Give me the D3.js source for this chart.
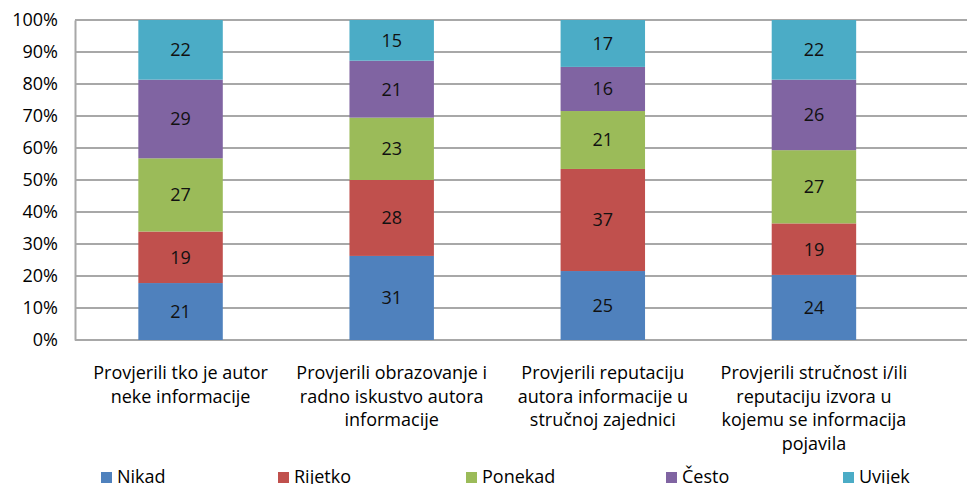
<!DOCTYPE html>
<html>
<head>
<meta charset="utf-8">
<script src="https://cdn.jsdelivr.net/npm/d3@7"></script>
<style>
  body { margin: 0; background: #fff; }
  svg { display: block; font-family: "Open Sans", "Liberation Sans", sans-serif; }
</style>
</head>
<body>
<svg id="chart" width="967" height="484"></svg>
<script>
// categories (x axis), each label split into lines
var categories = ["c1", "c2", "c3", "c4"];
var categoryLines = [
  ["Provjerili tko je autor", "neke informacije"],
  ["Provjerili obrazovanje i", "radno iskustvo autora", "informacije"],
  ["Provjerili reputaciju", "autora informacije u", "stručnoj zajednici"],
  ["Provjerili stručnost i/ili", "reputaciju izvora u", "kojemu se informacija", "pojavila"]
];
var seriesNames = ["Nikad", "Rijetko", "Ponekad", "Često", "Uvijek"];
var nikad   = [21, 31, 25, 24];
var rijetko = [19, 28, 37, 19];
var ponekad = [27, 23, 21, 27];
var cesto   = [29, 21, 16, 26];
var uvijek  = [22, 15, 17, 22];
var yTicks = [0, 0.1, 0.2, 0.3, 0.4, 0.5, 0.6, 0.7, 0.8, 0.9, 1];

var colors = ["#4F81BD", "#C0504D", "#9BBB59", "#8064A2", "#4BACC6"];
var fontSize = 18;

// build rows for d3.stack
var allSeries = [nikad, rijetko, ponekad, cesto, uvijek];
var rows = categories.map(function(c, i) {
  var r = {cat: c};
  seriesNames.forEach(function(s, j) { r[s] = allSeries[j][i]; });
  return r;
});

var stacked = d3.stack()
  .keys(seriesNames)
  .offset(d3.stackOffsetExpand)(rows);

var svg = d3.select("#chart");
var plotLeft = 75, plotTop = 20, plotBottom = 340, gridRight = 967, bandRight = 919.5;

var x = d3.scaleBand()
  .domain(categories)
  .range([plotLeft, bandRight])
  .paddingInner(0.6)
  .paddingOuter(0.3);

var y = d3.scaleLinear().domain([0, 1]).range([plotBottom, plotTop]);

// gridlines
svg.append("g")
  .selectAll("line")
  .data(yTicks)
  .enter().append("line")
  .attr("x1", plotLeft)
  .attr("x2", gridRight)
  .attr("y1", function(d) { return y(d); })
  .attr("y2", function(d) { return y(d); })
  .attr("stroke", "#a8a8a8")
  .attr("stroke-width", 2);

// y axis
var yAxis = svg.append("g")
  .attr("transform", "translate(" + plotLeft + ",0)")
  .call(d3.axisLeft(y).tickValues(yTicks).tickSize(0).tickPadding(17)
    .tickFormat(d3.format(".0%")));
yAxis.select(".domain").attr("stroke", "#a8a8a8").attr("stroke-width", 2);
yAxis.selectAll("text")
  .attr("font-size", fontSize)
  .attr("font-family", "'Open Sans', 'Liberation Sans', sans-serif")
  .attr("fill", "#000");

// bars
var layer = svg.append("g")
  .selectAll("g")
  .data(stacked)
  .enter().append("g")
  .attr("fill", function(d, i) { return colors[i]; });

layer.selectAll("rect")
  .data(function(d) { return d; })
  .enter().append("rect")
  .attr("x", function(d) { return x(d.data.cat); })
  .attr("width", x.bandwidth())
  .attr("y", function(d) { return y(d[1]); })
  .attr("height", function(d) { return y(d[0]) - y(d[1]); });

// value labels
stacked.forEach(function(s) {
  svg.append("g")
    .selectAll("text")
    .data(s)
    .enter().append("text")
    .attr("x", function(d) { return x(d.data.cat) + x.bandwidth() / 2; })
    .attr("y", function(d) { return (y(d[0]) + y(d[1])) / 2; })
    .attr("dy", "0.36em")
    .attr("text-anchor", "middle")
    .attr("font-size", fontSize)
    .attr("fill", "#111")
    .text(function(d) { return d.data[s.key]; });
});

// category labels
var catG = svg.append("g")
  .selectAll("text")
  .data(categories)
  .enter().append("text")
  .attr("text-anchor", "middle")
  .attr("font-size", fontSize)
  .attr("fill", "#000");

catG.each(function(c, i) {
  var t = d3.select(this);
  categoryLines[i].forEach(function(line, k) {
    t.append("tspan")
      .attr("x", x(c) + x.bandwidth() / 2)
      .attr("y", 379 + k * 23.7)
      .text(line);
  });
});

// legend
var legendX = [101, 278, 466, 666, 843];
var legend = svg.append("g")
  .selectAll("g")
  .data(seriesNames)
  .enter().append("g")
  .attr("transform", function(d, i) { return "translate(" + legendX[i] + ",472)"; });

legend.append("rect")
  .attr("width", 11)
  .attr("height", 11)
  .attr("fill", function(d, i) { return colors[i]; });

legend.append("text")
  .attr("x", 16)
  .attr("y", 11)
  .attr("font-size", fontSize)
  .attr("fill", "#000")
  .text(function(d) { return d; });
</script>
</body>
</html>
